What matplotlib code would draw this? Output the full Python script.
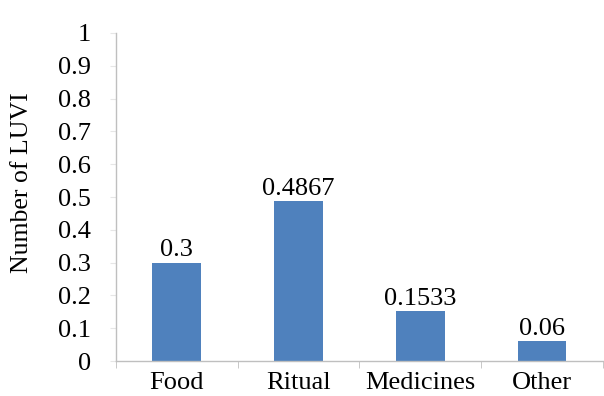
import matplotlib
matplotlib.use("Agg")
import matplotlib.pyplot as plt
import numpy as np

categories = ["Food", "Ritual", "Medicines", "Other"]
values = [0.3, 0.4867, 0.1533, 0.06]
value_labels = ["0.3", "0.4867", "0.1533", "0.06"]
y_ticks = [0, 0.1, 0.2, 0.3, 0.4, 0.5, 0.6, 0.7, 0.8, 0.9, 1]
y_tick_labels = ["0", "0.1", "0.2", "0.3", "0.4", "0.5", "0.6", "0.7", "0.8", "0.9", "1"]

plt.rcParams["font.family"] = ["Liberation Serif", "DejaVu Serif"]

fig = plt.figure(figsize=(6.04, 3.96), dpi=100)
ax = fig.add_axes([0.192, 0.088, 0.806, 0.829])

x = np.arange(len(categories))
ax.bar(x, values, width=0.4, color="#4f81bd", zorder=2)

for xi, v, lab in zip(x, values, value_labels):
    ax.text(xi, v + 0.004, lab, ha="center", va="bottom", fontsize=19)

ax.set_xlim(-0.5, len(categories) - 0.5)
ax.set_ylim(0, 1)

ax.set_yticks(y_ticks)
ax.set_yticklabels(y_tick_labels, fontsize=19)
ax.tick_params(axis="y", length=4, color="#e6e6e6", pad=14)

ax.set_xticks(x)
ax.set_xticklabels(categories, fontsize=19)
ax.tick_params(axis="x", length=0, pad=8)
ax.set_xticks(np.arange(-0.5, len(categories)), minor=True)
ax.tick_params(axis="x", which="minor", length=5, color="#bfbfbf")

for side in ["top", "right"]:
    ax.spines[side].set_visible(False)
for side in ["left", "bottom"]:
    ax.spines[side].set_color("#bfbfbf")
    ax.spines[side].set_linewidth(1.0)

ax.set_ylabel("Number of LUVI", fontsize=18.5)
ax.yaxis.set_label_coords(-0.170, 0.543)

fig.savefig("out.png", dpi=100)
